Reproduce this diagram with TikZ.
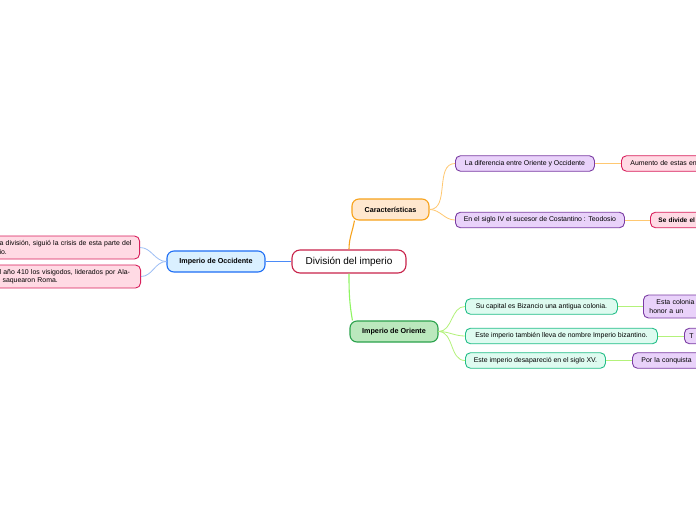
\documentclass[tikz,border=0pt]{standalone}
\usepackage{fontspec}
\setmainfont{Liberation Sans}
\usetikzlibrary{positioning}
\definecolor{rootred}{HTML}{C8234A}
\definecolor{pinkline}{HTML}{D81E5B}
\definecolor{pinkfill}{HTML}{FFDAE4}
\definecolor{featborder}{HTML}{F7A21B}
\definecolor{featfill}{HTML}{FFE8CF}
\definecolor{featlink}{HTML}{FFC871}
\definecolor{eastborder}{HTML}{2BA24C}
\definecolor{eastfill}{HTML}{BBE8BD}
\definecolor{eastlink}{HTML}{B3F27A}
\definecolor{westborder}{HTML}{1E6EF5}
\definecolor{westfill}{HTML}{DAF0FF}
\definecolor{westlink}{HTML}{9DBEF5}
\definecolor{purpleborder}{HTML}{7A3CA3}
\definecolor{purplefill}{HTML}{E9D2FA}
\definecolor{tealborder}{HTML}{22BE88}
\definecolor{tealfill}{HTML}{DEFBF0}

\begin{document}
\begin{tikzpicture}[
    x=1pt, y=-1pt,
    root/.style={rectangle, rounded corners=8pt, draw=rootred, fill=white,
                 line width=1.1pt, minimum width=114pt, minimum height=23pt,
                 font=\fontsize{10}{12}\selectfont},
    topic/.style={rectangle, rounded corners=7pt, line width=1.1pt,
                  minimum height=21pt, inner xsep=4pt,
                  font=\fontsize{7.2}{9}\selectfont\bfseries},
    leaf/.style={rectangle, rounded corners=5pt, line width=0.9pt,
                 minimum height=15.5pt, inner xsep=4pt, inner ysep=2pt,
                 font=\fontsize{6.9}{8.2}\selectfont, anchor=west},
    edgebox/.style={leaf, text width=110pt, align=left, inner xsep=9pt},
    pinkbox/.style={draw=pinkline, fill=pinkfill},
    purplebox/.style={draw=purpleborder, fill=purplefill},
    tealbox/.style={draw=tealborder, fill=tealfill},
    mainlink/.style={line width=1.1pt},
    sublink/.style={line width=0.8pt}
]

\useasboundingbox (0,0) rectangle (696,520);
\fill[white] (0,0) rectangle (696,520);
\clip (0,0) rectangle (696,520);

\node[root] (root) at (349,261.5) {División del imperio};

\node[topic, draw=featborder, fill=featfill, minimum width=77pt] (feat) at (390.5,209.5) {Características};
\node[topic, draw=eastborder, fill=eastfill, minimum width=88pt] (east) at (394,331.5) {Imperio de Oriente};
\node[topic, draw=westborder, fill=westfill, minimum width=98pt] (west) at (216,261.5) {Imperio de Occidente};

\node[leaf, purplebox, minimum width=139pt] (diff) at (455,163.5) {La diferencia entre Oriente y Occidente};
\node[leaf, purplebox, minimum width=169pt] (teod) at (455,220) {En el siglo IV el sucesor de Costantino : Teodosio};
\node[edgebox, pinkbox] (aumento) at (621,163.5) {Aumento de estas en};
\node[edgebox, pinkbox, inner xsep=8pt, font=\fontsize{6.5}{8.2}\selectfont\bfseries] (divide) at (650,220) {Se divide el};

\node[leaf, tealbox, minimum width=152pt] (capital) at (465,306.5) {Su capital es Bizancio una antigua colonia.};
\node[leaf, tealbox, minimum width=192pt] (bizant) at (465,336) {Este imperio también lleva de nombre Imperio bizantino.};
\node[leaf, tealbox, minimum width=140pt] (siglo) at (465,360.5) {Este imperio desapareció en el siglo XV.};
\node[edgebox, purplebox, minimum height=23pt, inner ysep=2.5pt, inner xsep=6pt] (colonia) at (643,306.5) {\hspace*{7pt}Esta colonia\\honor a un};
\node[edgebox, purplebox, inner xsep=5pt] (tletter) at (684,336) {T};
\node[edgebox, purplebox] (conquista) at (632,360.5) {Por la conquista};

\node[leaf, pinkbox, anchor=east, text width=132pt, align=left, inner xsep=8pt, minimum height=23pt] (crisis) at (140,247.5) {a división, siguió la crisis de esta parte del\\io.};
\node[leaf, pinkbox, anchor=east, text width=133pt, align=left, inner xsep=8pt, minimum height=23pt] (visigodos) at (141,276.5) {l año 410 los visigodos, liderados por Ala-\\\hspace*{3pt}saquearon Roma.};

\draw[mainlink, featborder] (root.north) to[out=90, in=-100] ([xshift=3pt]feat.south west);
\draw[mainlink, eastlink!80!green] (root.south) to[out=-90, in=100] ([xshift=3pt]east.north west);
\draw[mainlink, westborder!80] (root.west) -- (west.east);

\draw[sublink, featlink] (feat.east) to[out=0, in=180] (diff.west);
\draw[sublink, featlink] (feat.east) to[out=0, in=180] (teod.west);
\draw[sublink, featlink] (diff.east) -- (aumento.west);
\draw[sublink, featlink] (teod.east) -- (divide.west);

\draw[sublink, eastlink] (east.east) to[out=0, in=180] (capital.west);
\draw[sublink, eastlink] (east.east) to[out=0, in=180] (bizant.west);
\draw[sublink, eastlink] (east.east) to[out=0, in=180] (siglo.west);
\draw[sublink, eastlink] (capital.east) -- (colonia.west);
\draw[sublink, eastlink] (bizant.east) -- (tletter.west);
\draw[sublink, eastlink] (siglo.east) -- (conquista.west);

\draw[sublink, westlink] (west.west) to[out=180, in=0] (crisis.east);
\draw[sublink, westlink] (west.west) to[out=180, in=0] (visigodos.east);

\end{tikzpicture}
\end{document}
